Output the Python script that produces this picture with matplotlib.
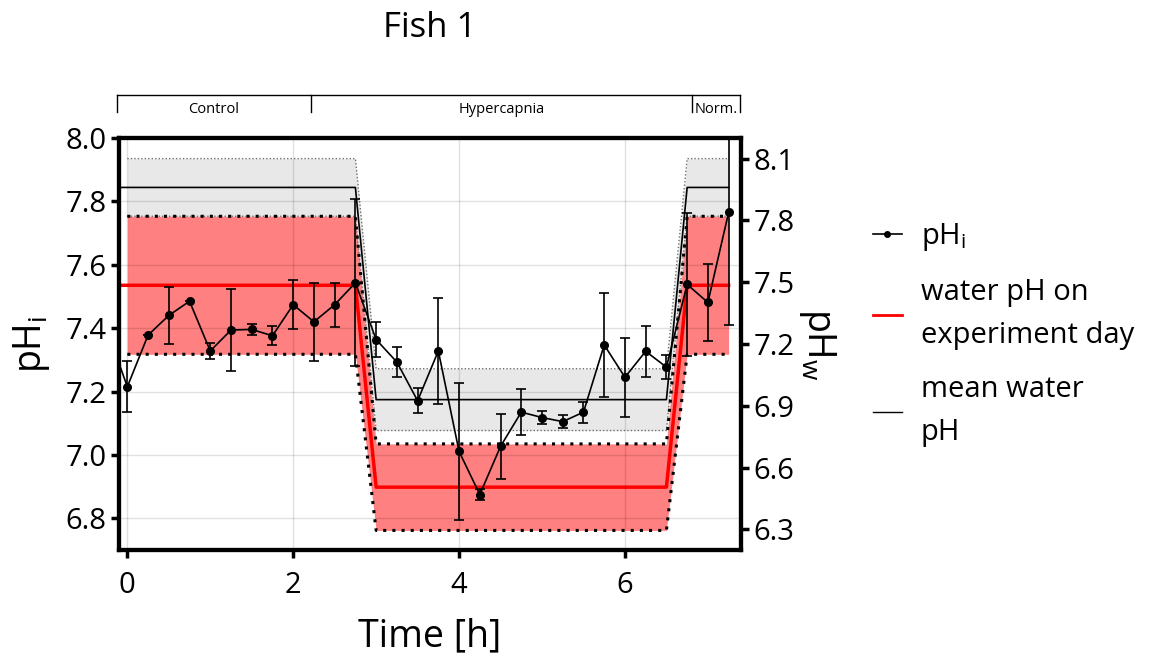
import numpy as np
import matplotlib
matplotlib.use("Agg")
import matplotlib.pyplot as plt
from matplotlib.lines import Line2D
import matplotlib.transforms as mtransforms

plt.rcParams['font.family'] = ['Open Sans', 'DejaVu Sans']
plt.rcParams['mathtext.default'] = 'regular'

# Intracellular pH (mean and SD), sampled every 15 min
time_h = [-0.25, 0.0, 0.25, 0.5, 0.75, 1.0, 1.25, 1.5, 1.75, 2.0, 2.25, 2.5,
          2.75, 3.0, 3.25, 3.5, 3.75, 4.0, 4.25, 4.5, 4.75, 5.0, 5.25, 5.5,
          5.75, 6.0, 6.25, 6.5, 6.75, 7.0, 7.25]
phi_mean = [7.40, 7.215, 7.378, 7.44, 7.485, 7.328, 7.394, 7.396, 7.376, 7.474,
            7.42, 7.474, 7.543, 7.364, 7.293, 7.171, 7.328, 7.011, 6.875, 7.027,
            7.135, 7.118, 7.105, 7.135, 7.347, 7.245, 7.327, 7.277, 7.538, 7.481,
            7.765]
phi_sd = [0.05, 0.08, 0.0, 0.09, 0.0, 0.025, 0.13, 0.017, 0.03, 0.077,
          0.124, 0.07, 0.263, 0.055, 0.048, 0.04, 0.168, 0.215, 0.017, 0.103,
          0.073, 0.02, 0.02, 0.033, 0.163, 0.124, 0.08, 0.038, 0.226, 0.122,
          0.355]

# Water pH protocol (break points)
water_time = [-0.25, 0.0, 2.75, 3.0, 6.5, 6.75, 7.25]
water_day = [7.485, 7.485, 7.485, 6.505, 6.505, 7.485, 7.485]
water_day_sd = [0.335, 0.335, 0.335, 0.21, 0.21, 0.335, 0.335]
water_mean = [7.96, 7.96, 7.96, 6.93, 6.93, 7.96, 7.96]
water_mean_sd = [0.14, 0.14, 0.14, 0.15, 0.15, 0.14, 0.14]

phase_names = ["Control", "Hypercapnia", "Norm."]
phase_edges = [-0.13, 2.22, 6.81, 7.39]

x_ticks = [0, 2, 4, 6]
phi_ticks = [6.8, 7.0, 7.2, 7.4, 7.6, 7.8, 8.0]
phw_ticks = [6.3, 6.6, 6.9, 7.2, 7.5, 7.8, 8.1]

fig = plt.figure(figsize=(11.5, 6.59), dpi=100)
ax = fig.add_axes([0.1035, 0.1654, 0.5409, 0.6252])
axw = ax.twinx()
ax.set_zorder(axw.get_zorder() + 1)
ax.patch.set_visible(False)

# --- water pH (right axis) ---
wt = np.array(water_time)
wd = np.array(water_day)
wds = np.array(water_day_sd)
wm = np.array(water_mean)
wms = np.array(water_mean_sd)
m = wt >= 0

axw.fill_between(wt[m], (wm - wms)[m], (wm + wms)[m], color='#e8e8e8', lw=0)
for edge in (wm + wms, wm - wms):
    axw.plot(wt[m], edge[m], color='#707070', lw=1.0, ls=(0, (1, 1.5)))
axw.fill_between(wt[m], (wd - wds)[m], (wd + wds)[m], color='#ff8080', lw=0)
for edge in (wd + wds, wd - wds):
    axw.plot(wt[m], edge[m], color='black', lw=2.2, ls=(0, (1, 2)))
axw.plot(wt, wm, color='black', lw=1.2)
axw.plot(wt, wd, color='red', lw=2.5)

# --- intracellular pH (left axis) ---
ax.errorbar(time_h, phi_mean, yerr=phi_sd, color='black', lw=1.2,
            marker='o', ms=5.5, capsize=3.5, elinewidth=1.2, capthick=1.2)

ax.set_xlim(-0.1, 7.4)
ax.set_ylim(6.7, 8.0)
axw.set_ylim(6.2, 8.2)
ax.set_xticks(x_ticks)
ax.set_yticks(phi_ticks)
ax.set_yticklabels([f"{v:.1f}" for v in phi_ticks])
axw.set_yticks(phw_ticks)
axw.set_yticklabels([f"{v:.1f}" for v in phw_ticks])

ax.grid(True, color='black', alpha=0.12, lw=1)
ax.set_axisbelow(True)

for a in (ax, axw):
    for s in a.spines.values():
        s.set_linewidth(3)
    a.tick_params(direction='out', length=6, width=2.5, labelsize=21, pad=3)
ax.tick_params(axis='x', pad=9)

ax.set_xlabel("Time [h]", fontsize=27, labelpad=13)
ax.set_ylabel("pH$_i$", fontsize=27, labelpad=10)
axw.set_ylabel("pH$_w$", fontsize=27, rotation=270, labelpad=31)

fig.text(0.374, 0.9575, "Fish 1", ha='center', va='center', fontsize=25)

# phase bracket above the plot
trans = mtransforms.blended_transform_factory(ax.transData, ax.transAxes)
y_top, y_tick = 1.1044, 1.063
ax.plot([phase_edges[0], phase_edges[-1]], [y_top, y_top], transform=trans,
        clip_on=False, color='black', lw=1)
for e in phase_edges:
    ax.plot([e, e], [y_tick, y_top], transform=trans, clip_on=False,
            color='black', lw=1)
for name, a0, a1 in zip(phase_names, phase_edges[:-1], phase_edges[1:]):
    ax.text((a0 + a1) / 2, 1.068, name, transform=trans, ha='center',
            va='center', fontsize=10.5)

handles = [Line2D([], [], color='black', marker='o', ms=4, lw=1.2),
           Line2D([], [], color='red', lw=2),
           Line2D([], [], color='black', lw=1)]
labels = ["pH$_i$", "water pH on\nexperiment day", "mean water\npH"]
leg = fig.legend(handles, labels, loc='upper left',
                 bbox_to_anchor=(0.759, 0.6644), frameon=False, fontsize=21,
                 handlelength=1.0, handletextpad=0.65, labelspacing=0.85,
                 borderpad=0, borderaxespad=0)
for t in leg.get_texts():
    t.set_linespacing(1.65)

fig.savefig("out.png", dpi=100)
